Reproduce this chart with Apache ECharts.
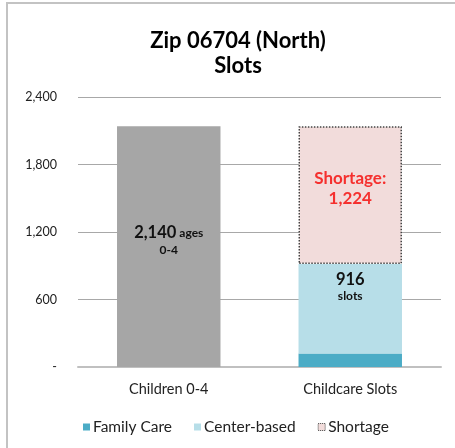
<!DOCTYPE html>
<html><head><meta charset="utf-8">
<script src="https://cdn.jsdelivr.net/npm/echarts@6/dist/echarts.min.js"></script>
<style>html,body{margin:0;padding:0;background:#fff}#c{width:455px;height:448px}</style>
</head><body><div id="c"></div>
<script>
const categories = ['Children 0-4', 'Childcare Slots'];
const children = [2140, '-'];
const familyCare = ['-', 120];
const centerBased = ['-', 796];
const shortage = ['-', 1224];
const yTicks = [0, 600, 1200, 1800, 2400];
const slotsTotal = 916;

const F = 'Lato, "Open Sans", sans-serif';
const chart = echarts.init(document.getElementById('c'));
chart.setOption({
  animation: false,
  textStyle: {fontFamily: F},
  graphic: [{type: 'rect', shape: {x: 7, y: 3, width: 470, height: 470}, style: {fill: 'none', stroke: '#c3c3c3', lineWidth: 2}}],
  title: {
    text: 'Zip 06704 (North)\nSlots', left: 233, textAlign: 'center', top: 23,
    textStyle: {fontFamily: F, fontSize: 22, fontWeight: 'bold', color: '#000', lineHeight: 25}
  },
  grid: {left: 78, right: 14, top: 97, bottom: 81},
  legend: {
    bottom: 8, left: 78, itemWidth: 7, itemHeight: 7, itemGap: 22,
    textStyle: {fontFamily: F, fontSize: 15.5, color: '#222', padding: [0, 0, 0, -2]},
    data: [
      {name: 'Family Care', icon: 'rect'},
      {name: 'Center-based', icon: 'rect'},
      {name: 'Shortage', icon: 'rect', itemStyle: {color: '#F2DCDB', borderColor: '#444', borderWidth: 1, borderType: 'dotted'}}
    ]
  },
  xAxis: {
    type: 'category', data: categories,
    axisLine: {lineStyle: {color: '#c0c0c0', width: 2}},
    axisTick: {show: false},
    axisLabel: {fontFamily: F, fontSize: 14.5, color: '#222', margin: 15}
  },
  yAxis: {
    type: 'value', min: 0, max: 2400, interval: 600,
    axisLine: {show: false}, axisTick: {show: false},
    splitLine: {lineStyle: {color: '#a8a8a8', width: 1}},
    axisLabel: {fontFamily: F, fontSize: 12.5, color: '#222', margin: 21,
      formatter: v => v === 0 ? '-' : v.toLocaleString('en-US')}
  },
  series: [
    {name: 'Children', type: 'bar', stack: 's', barCategoryGap: '43%', data: children,
      itemStyle: {color: '#A6A6A6'},
      label: {show: true, position: 'inside', offset: [0, -6],
        formatter: p => '{a|' + p.value.toLocaleString('en-US') + '} {b|ages}\n{b|0-4}',
        rich: {a: {fontFamily: F, fontSize: 16.5, fontWeight: 'bold', color: '#111', lineHeight: 19},
               b: {fontFamily: F, fontSize: 12, fontWeight: 'bold', color: '#111', lineHeight: 15}}}},
    {name: 'Family Care', type: 'bar', stack: 's', data: familyCare, itemStyle: {color: '#4BACC6'}},
    {name: 'Center-based', type: 'bar', stack: 's', data: centerBased, itemStyle: {color: '#B7DEE8'},
      label: {show: true, position: 'insideTop', distance: 6,
        formatter: () => '{a|' + slotsTotal + '}\n{b|slots}',
        rich: {a: {fontFamily: F, fontSize: 16.5, fontWeight: 'bold', color: '#111', lineHeight: 19},
               b: {fontFamily: F, fontSize: 12, fontWeight: 'bold', color: '#111', lineHeight: 15}}}},
    {name: 'Shortage', type: 'bar', stack: 's', data: shortage,
      itemStyle: {color: '#F2DCDB', borderColor: '#444', borderWidth: 1.5, borderType: 'dotted'},
      label: {show: true, position: 'inside', offset: [0, -7],
        formatter: p => 'Shortage:\n' + p.value.toLocaleString('en-US'),
        fontFamily: F, fontSize: 17, fontWeight: 'bold', color: '#F5302E', lineHeight: 20}}
  ]
});
</script></body></html>
